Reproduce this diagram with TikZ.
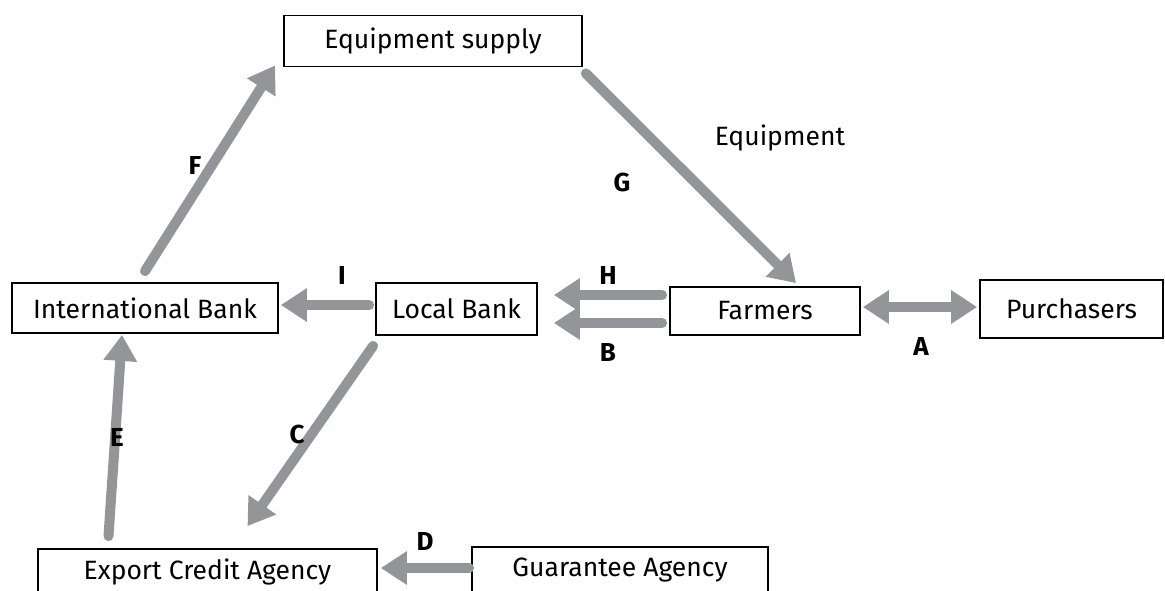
\documentclass[tikz,border=0pt]{standalone}
\usepackage{fontspec}
\setmainfont{Fira Sans}
\usetikzlibrary{arrows.meta,calc}
\definecolor{flowgray}{RGB}{147,149,152}
\tikzset{
  party/.style={draw=black,line width=1.8pt,fill=white,inner sep=0pt,
    font=\fontsize{26.5}{30}\selectfont},
  flow/.style={draw=flowgray,line width=10pt,line cap=round,
    -{Triangle[length=26pt,width=32pt]}},
  biflow/.style={draw=flowgray,line width=10pt,
    {Triangle[length=26pt,width=32pt]}-{Triangle[length=26pt,width=32pt]}},
  tag/.style={font=\fontsize{26}{30}\selectfont\bfseries},
  note/.style={font=\fontsize{26.5}{30}\selectfont}
}
\begin{document}
\begin{tikzpicture}[x=1pt,y=-1pt]
\useasboundingbox (0,0) rectangle (1165,590);
\clip (0,0) rectangle (1165,590);
\fill[white] (0,0) rectangle (1165,590);

% parties
\node[party,minimum width=298pt,minimum height=51pt] (eq)  at (433,41)    {Equipment supply};
\node[party,minimum width=266pt,minimum height=50pt] (ib)  at (145,308)   {International Bank};
\node[party,minimum width=161pt,minimum height=52pt] (lb)  at (456.5,309) {Local Bank};
\node[party,minimum width=190pt,minimum height=48pt] (fa)  at (765,311)   {Farmers};
\node[party,minimum width=183pt,minimum height=58pt] (pu)  at (1071.5,309){Purchasers};
\node[party,minimum width=339pt,minimum height=46pt] (eca) at (207.5,572) {Export Credit Agency};
\node[party,minimum width=296pt,minimum height=46pt] (ga)  at (620,570)   {Guarantee Agency};

% flows between parties
\draw[flow]   ($(ib.north)+(0,-11)$)       -- ($(eq.south west)+(-8,-2)$);
\draw[flow]   ($(eq.south east)+(3,6)$)     -- ($(fa.north)+(31,-3)$);
\draw[flow]   ($(lb.west)+(-6,-4)$)         -- ($(ib.east)+(2,-3)$);
\draw[flow]   ($(fa.west)+(-7,-16)$)        -- ($(lb.east)+(16,-14)$);
\draw[flow]   ($(fa.west)+(-7,12)$)         -- ($(lb.east)+(16,14)$);
\draw[biflow] ($(fa.east)+(2,-4)$)          -- ($(pu.west)+(-2,-2)$);
\draw[flow]   ($(lb.south west)+(-2,10)$)   -- ($(eca.north)+(40,-22)$);
\draw[flow]   ($(eca.north)+(-99,-12)$)     -- ($(ib.south)+(-23,1)$);
\draw[flow]   ($(ga.west)+(-2,-2)$)         -- ($(eca.east)+(3,-4)$);

% flow labels
\node[note] (eqlbl) at (780,138) {Equipment};
\node[tag] (lA) at (921,346) {A};
\node[tag] (lB) at (608,352) {B};
\node[tag] (lC) at (297,434) {C};
\node[tag] (lD) at (425,541) {D};
\node[tag] (lE) at (117,437) {E};
\node[tag] (lF) at (195,165) {F};
\node[tag] (lG) at (622,182) {G};
\node[tag] (lH) at (608,275) {H};
\node[tag] (lI) at (342,275) {I};
\end{tikzpicture}
\end{document}
